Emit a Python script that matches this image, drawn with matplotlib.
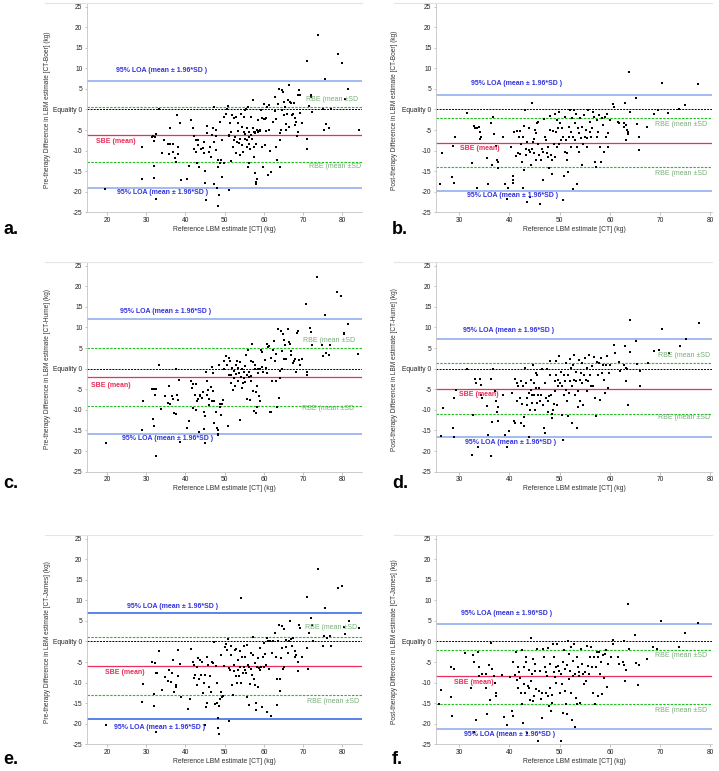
import matplotlib.pyplot as plt

plt.rcParams['font.family'] = ['Liberation Sans', 'DejaVu Sans']

# ---- data (x = reference LBM [CT], y = difference) ----
a_x = [19.6, 28.9, 29.0, 31.4, 31.8, 32.2, 32.5, 32.0, 32.0, 32.1,
       32.4, 33.2, 33.9, 34.6, 35.6, 35.7, 36.0, 36.1, 36.7, 36.9,
       37.3, 37.7, 37.9, 38.0, 38.0, 38.5, 38.8, 40.5, 41.0, 41.5,
       41.9, 42.1, 42.2, 42.6, 42.8, 42.9, 43.1, 43.3, 43.4, 43.9,
       44.4, 44.6, 44.7, 45.0, 45.1, 45.2, 45.5, 45.6, 46.0, 46.3,
       46.6, 46.7, 47.0, 47.2, 47.3, 47.4, 47.7, 47.8, 47.9, 48.1,
       48.2, 48.3, 48.4, 48.5, 48.7, 48.9, 49.1, 49.3, 49.4, 49.7,
       49.9, 50.4, 50.7, 50.9, 51.1, 51.2, 51.3, 51.0, 51.5, 51.7,
       51.8, 52.0, 52.3, 52.4, 52.6, 52.8, 52.9, 53.1, 53.3, 53.4,
       53.6, 53.8, 54.0, 54.1, 54.3, 54.5, 54.6, 54.8, 55.0, 55.1,
       55.2, 55.3, 55.5, 55.6, 55.7, 55.7, 55.9, 56.0, 56.1, 56.2,
       56.2, 56.3, 56.5, 56.7, 56.8, 56.9, 57.1, 57.2, 57.4, 57.4,
       57.5, 57.6, 57.7, 57.8, 57.9, 57.9, 58.0, 58.2, 58.2, 58.4,
       58.5, 58.7, 58.9, 59.0, 59.2, 59.4, 59.6, 59.7, 59.9, 60.0,
       60.2, 60.3, 60.5, 60.6, 60.8, 61.0, 61.2, 61.3, 61.6, 61.9,
       62.3, 62.7, 62.8, 63.0, 63.1, 63.4, 63.6, 63.8, 64.0, 64.1,
       64.2, 64.3, 64.6, 64.7, 64.8, 65.0, 65.2, 65.4, 65.5, 65.7,
       65.8, 66.1, 66.4, 66.5, 66.7, 66.9, 67.2, 67.4, 67.6, 67.8,
       68.0, 68.2, 68.5, 68.6, 68.8, 69.0, 69.1, 69.3, 69.6, 71.0,
       71.0, 71.0, 71.6, 71.9, 72.1, 72.3, 73.7, 75.0, 75.3, 75.6,
       75.9, 76.7, 77.1, 78.9, 79.9, 80.6, 81.5, 84.2]
a_y = [-19.4, -16.9, -9.1, -6.6, -6.5, -6.6, -6.0, -7.7, -13.7, -16.7,
       -21.7, 0.1, -10.5, -7.5, -8.3, -10.9, -4.5, -8.3, -10.3, -8.3,
       -11.7, -12.8, -1.3, -9.1, -10.9, -3.2, -17.2, -16.9, -13.8, -2.6,
       -4.5, -6.4, -9.6, -7.5, -10.3, -13.1, -8.7, -7.5, -13.9, -9.5,
       -9.3, -7.9, -10.7, -15.0, -17.8, -22.0, -4.0, -5.7, -10.3, -9.1,
       -11.5, -6.2, -4.6, -18.1, 0.6, -7.9, -9.9, -4.9, -6.4, -19.0,
       -23.4, -12.3, -13.9, -20.9, -12.9, -3.0, -12.3, -16.4, -7.5, -12.9,
       -1.8, -1.1, 0.0, 0.8, -6.2, -6.5, -3.4, -19.7, -12.5, -5.4,
       -1.4, -9.2, -7.5, -2.2, -6.6, -10.7, -1.8, -7.9, -5.2, -3.4,
       -8.1, -7.1, -11.1, -1.0, -8.7, -4.2, -10.3, -5.6, -1.9, -7.3,
       -0.2, -6.0, 0.2, -7.5, -9.1, -4.6, 0.6, -13.9, -6.6, -13.0,
       -8.4, -5.4, -9.5, -1.9, -6.2, -7.1, -4.4, 2.3, -9.1, -5.4,
       -11.5, -5.7, -15.4, -5.4, -8.3, -18.0, -17.6, -17.0, -5.0, -5.4,
       -2.6, -5.2, -5.2, -4.9, -0.2, -2.2, -9.1, -13.9, -2.4, 1.3,
       -8.7, -2.4, -5.2, -2.2, 0.6, -16.0, 1.1, -5.0, -10.0, -15.2,
       -3.0, 3.1, -0.3, -2.4, -9.1, -12.3, 1.3, 4.9, -13.9, -5.8,
       -7.5, -5.0, 4.7, -0.2, 4.3, -1.4, 1.9, 0.6, -3.6, -4.9,
       -1.0, 2.3, 5.9, -4.2, 1.9, 1.5, -1.4, -1.0, 1.5, -2.2,
       -3.8, -3.0, -6.5, -5.4, 3.5, 4.7, 3.5, -0.8, -3.2, 11.8,
       -7.1, -9.5, 0.8, 3.1, 3.5, -0.6, 18.1, 0.1, -4.9, 7.3,
       -3.6, -4.4, 0.2, 13.5, 11.2, 2.5, 4.9, -5.0]

b_x = [26.1, 26.6, 28.5, 28.7, 28.9, 29.2, 31.5, 32.6, 32.9, 33.1,
       33.5, 33.6, 34.0, 34.1, 34.3, 34.1, 35.5, 35.8, 36.4, 36.6,
       36.8, 36.9, 37.4, 37.6, 37.8, 37.8, 38.8, 39.2, 39.6, 39.7,
       40.4, 40.7, 40.8, 40.8, 41.0, 41.3, 41.6, 41.7, 41.9, 42.1,
       42.2, 42.4, 42.6, 42.7, 42.8, 42.9, 43.0, 43.2, 43.3, 43.4,
       43.6, 43.6, 43.8, 43.8, 44.0, 44.1, 44.2, 44.4, 44.5, 44.6,
       44.8, 44.9, 45.0, 45.2, 45.3, 45.5, 45.6, 45.7, 45.9, 46.1,
       46.2, 46.4, 46.6, 46.7, 46.9, 47.1, 47.3, 47.5, 47.6, 47.7,
       47.9, 48.0, 48.1, 48.3, 48.4, 48.5, 48.7, 48.9, 49.0, 49.1,
       49.3, 49.4, 49.5, 49.7, 49.8, 49.9, 50.1, 50.3, 50.4, 50.6,
       50.7, 50.9, 51.0, 51.1, 51.3, 51.4, 51.5, 51.7, 51.8, 51.9,
       52.1, 52.2, 52.3, 52.5, 52.6, 52.7, 52.9, 53.0, 53.1, 53.3,
       53.4, 53.5, 53.7, 53.8, 53.9, 54.1, 54.2, 54.4, 54.5, 54.7,
       54.9, 55.1, 55.2, 55.4, 55.5, 55.7, 56.0, 56.1, 56.2, 56.4,
       56.7, 56.9, 57.0, 57.2, 57.4, 57.5, 57.7, 57.9, 58.0, 58.2,
       58.4, 58.6, 58.8, 59.0, 59.2, 59.4, 59.6, 59.7, 60.1, 60.7,
       60.9, 61.7, 61.9, 62.7, 62.8, 63.0, 63.1, 63.2, 63.4, 63.5,
       63.6, 63.8, 64.0, 65.1, 65.3, 65.7, 65.8, 67.3, 68.7, 69.5,
       70.3, 71.5, 73.8, 75.0, 77.6]
b_y = [-18.2, -10.7, -16.4, -8.8, -17.9, -6.6, -0.8, -12.9, -4.1, -4.6,
       -4.6, -19.1, -4.2, -7.3, -6.6, -5.4, -11.8, -18.2, -3.2, -13.4,
       -1.8, -6.0, -8.9, -12.3, -12.7, -14.3, -6.6, -18.2, -21.8, -19.2,
       -9.1, -16.2, -17.2, -17.8, -5.4, -11.3, -5.2, -10.7, -6.8, -10.9,
       -5.2, -8.3, -12.7, -6.6, -19.0, -14.6, -4.1, -0.2, -11.1, -9.5,
       -7.9, -22.6, -4.6, -9.9, -21.2, -10.3, -13.5, 1.5, -9.5, -7.9,
       -10.7, -7.3, -5.0, -5.8, -12.3, -3.4, -8.3, -3.0, -11.1, -22.9,
       -12.3, -9.5, -10.3, -17.2, -2.4, -6.6, -7.5, -10.7, -11.5, -9.1,
       -14.3, -5.0, -1.6, -11.1, -12.2, -15.6, -5.2, -8.3, -1.0, -11.5,
       -5.4, -2.6, -9.1, -4.6, -8.3, -0.6, -3.4, -7.5, -4.6, -22.0,
       -6.6, -16.2, -10.3, -1.8, -7.5, -10.7, -12.2, -15.2, -4.2, -6.6,
       -0.2, -9.1, -5.4, -2.2, -19.4, -6.6, -0.2, -3.4, -7.5, -1.1,
       -18.0, -9.1, -4.6, -10.3, -5.8, -2.2, -7.0, -13.5, -4.2, -8.3,
       -1.4, -6.6, -5.0, -7.0, -9.1, -0.2, -5.4, -3.0, -6.6, -4.6,
       -0.6, -1.8, -12.7, -13.9, -2.6, -6.8, -5.4, -1.4, -9.1, -12.7,
       -2.2, -3.8, -10.3, -1.8, -6.6, -1.0, -5.8, -9.1, -2.6, 1.3,
       0.5, -3.0, -3.4, -4.2, -3.2, 1.6, -3.8, -7.5, -5.0, -5.4,
       -6.0, 9.0, -0.7, 2.9, -3.6, -6.8, -9.9, -4.2, -1.0, -0.2,
       6.5, -0.8, 0.2, 1.2, 6.2]

c_x = [19.7, 29.0, 29.2, 31.5, 31.8, 31.9, 32.1, 32.2, 32.4, 32.6,
       33.2, 33.7, 34.7, 35.6, 35.9, 36.1, 36.6, 36.8, 37.2, 37.5,
       37.7, 37.9, 38.1, 38.3, 38.6, 40.4, 40.9, 41.3, 41.7, 41.9,
       42.0, 42.4, 42.6, 42.7, 42.9, 43.2, 43.4, 43.6, 43.8, 44.2,
       44.5, 44.7, 44.8, 45.0, 45.1, 45.2, 45.4, 45.6, 45.7, 46.0,
       46.1, 46.4, 46.7, 46.8, 47.0, 47.1, 47.3, 47.4, 47.8, 48.0,
       48.2, 48.3, 48.4, 48.6, 48.7, 48.9, 49.1, 49.3, 49.5, 49.7,
       49.9, 50.3, 50.6, 50.8, 51.1, 51.2, 51.4, 51.6, 51.7, 51.9,
       52.1, 52.3, 52.4, 52.6, 52.8, 52.9, 53.1, 53.3, 53.4, 53.6,
       53.8, 54.0, 54.1, 54.3, 54.5, 54.6, 54.8, 55.0, 55.1, 55.3,
       55.5, 55.6, 55.8, 56.0, 56.1, 56.3, 56.5, 56.6, 56.7, 56.8,
       57.0, 57.2, 57.3, 57.5, 57.7, 57.8, 57.9, 58.0, 58.2, 58.3,
       58.5, 58.6, 58.8, 59.0, 59.1, 59.3, 59.5, 59.6, 59.8, 60.2,
       60.5, 60.7, 60.8, 61.0, 61.3, 61.5, 61.7, 61.9, 62.1, 62.4,
       62.6, 62.8, 63.0, 63.2, 63.4, 63.6, 63.8, 64.0, 64.1, 64.4,
       64.5, 64.7, 64.8, 65.1, 65.2, 65.4, 65.7, 66.1, 66.4, 66.7,
       66.9, 67.0, 67.4, 67.7, 68.0, 68.2, 68.5, 68.7, 69.0, 69.2,
       69.6, 70.8, 71.0, 71.0, 71.7, 72.0, 72.2, 73.5, 74.8, 75.1,
       75.5, 75.7, 76.6, 76.9, 78.7, 79.7, 80.3, 80.5, 81.4, 83.9]
c_y = [-18.1, -14.8, -7.9, -4.9, -12.2, -13.9, -4.9, -6.3, -21.2, -4.9,
       1.0, -9.7, -6.6, -8.4, -4.1, -8.6, -6.6, -7.3, -10.8, -11.0,
       -0.1, -6.5, -7.7, -2.8, -17.7, -14.3, -12.8, -3.1, -4.7, -3.7,
       -9.6, -6.5, -10.0, -3.7, -7.9, -7.3, -15.4, -6.3, -6.7, -7.1,
       -5.7, -14.6, -10.4, -18.1, -11.6, -0.8, -3.1, -6.3, -5.3, -7.3,
       -8.8, -4.5, -7.8, 0.5, -5.5, -1.1, -13.2, -7.9, -10.4, -14.4,
       -15.9, -14.8, -16.0, 1.0, -9.2, -8.6, -11.2, -8.6, -7.6, 1.8,
       -0.2, 3.0, 1.0, -13.8, 2.6, -1.5, 1.9, -3.5, -1.5, 0.2,
       -5.1, -0.6, -2.3, -4.3, 1.0, -1.3, 1.8, 0.2, -3.1, -1.1,
       -12.4, 1.6, -2.1, -4.7, -0.2, -3.5, -0.8, -2.3, 0.6, -3.2,
       3.4, -7.4, -1.6, 4.6, -0.8, -2.1, -7.5, 1.8, -2.9, -1.9,
       6.0, -5.5, 1.6, -10.2, 1.0, -0.2, -5.7, -10.8, -9.2, -4.3,
       0.0, -1.1, -6.7, -7.9, -0.2, 4.6, 4.1, 0.3, -0.8, 2.2,
       0.2, 6.0, -1.1, 5.2, 5.4, -10.4, -10.5, 2.6, -3.1, 4.6,
       6.8, 1.8, -3.1, 3.6, -9.2, 9.5, -7.1, -0.5, -2.3, 9.1,
       4.4, -0.2, 8.5, 7.0, 2.4, 5.8, 2.4, 9.5, 6.5, 6.0,
       4.2, 3.4, 1.4, 1.8, 2.4, -0.8, 8.7, 9.2, 2.2, 1.0,
       2.4, 15.6, -0.8, -1.5, 9.9, 8.9, 5.7, 22.2, 5.7, 3.0,
       13.1, 3.8, 3.4, 5.7, 18.6, 17.6, 8.7, 8.4, 10.9, 3.6]

d_x = [26.3, 26.7, 28.7, 28.9, 29.0, 29.3, 31.6, 32.8, 32.6, 33.1,
       33.3, 33.8, 34.1, 34.3, 34.3, 34.5, 35.6, 35.8, 36.3, 36.4,
       36.6, 36.8, 37.1, 37.3, 37.5, 37.7, 37.8, 38.8, 39.2, 39.6,
       39.9, 40.5, 41.0, 41.1, 41.1, 41.5, 41.6, 41.8, 42.1, 42.3,
       42.4, 42.6, 42.7, 42.9, 43.0, 43.2, 43.4, 43.5, 43.6, 43.8,
       43.9, 44.0, 44.2, 44.2, 44.4, 44.5, 44.6, 44.8, 44.9, 45.0,
       45.2, 45.3, 45.4, 45.5, 45.7, 45.9, 46.1, 46.3, 46.4, 46.6,
       46.8, 47.0, 47.1, 47.3, 47.4, 47.6, 47.7, 47.9, 48.0, 48.1,
       48.3, 48.4, 48.5, 48.7, 48.8, 49.0, 49.1, 49.2, 49.3, 49.5,
       49.6, 49.7, 49.9, 50.1, 50.2, 50.4, 50.5, 50.7, 50.8, 50.9,
       51.1, 51.2, 51.3, 51.5, 51.6, 51.7, 51.9, 52.0, 52.1, 52.3,
       52.4, 52.5, 52.7, 52.8, 52.9, 53.1, 53.2, 53.3, 53.5, 53.6,
       53.7, 53.9, 54.0, 54.1, 54.3, 54.4, 54.5, 54.7, 54.9, 55.1,
       55.2, 55.4, 55.5, 55.7, 55.9, 56.1, 56.2, 56.4, 56.7, 56.9,
       57.1, 57.3, 57.4, 57.6, 57.8, 58.0, 58.2, 58.4, 58.6, 58.8,
       59.0, 59.2, 59.4, 59.6, 59.8, 60.0, 60.8, 61.0, 61.9, 62.0,
       62.7, 63.0, 63.1, 63.2, 63.4, 63.5, 63.9, 64.0, 65.2, 65.4,
       65.9, 65.9, 67.5, 68.8, 69.7, 70.3, 71.7, 73.9, 75.2, 77.7]
d_y = [-16.3, -9.6, -14.4, -7.1, -16.7, -5.1, 0.0, -11.2, -20.9, -2.6,
       -3.6, -19.1, -2.4, -3.9, -6.3, -7.0, -9.0, -16.0, -2.5, -21.3,
       -13.0, -0.2, -5.5, -7.9, -10.4, -12.8, -9.2, -6.3, -16.0, -19.1,
       -15.2, -5.9, -12.8, -13.2, -2.4, -3.5, -7.9, -4.1, -7.1, -3.1,
       -13.2, -8.5, -4.3, -14.0, -11.8, 0.2, -3.5, -8.8, -7.1, -5.9,
       -16.7, -10.0, -5.1, -2.7, -8.3, -6.3, 1.0, -6.3, -3.5, -10.0,
       -4.7, -1.1, -8.3, -1.5, -6.3, -4.7, -7.9, -6.3, -0.2, -8.8,
       -14.3, -15.6, -3.5, -7.1, -0.2, -10.4, -7.9, -6.7, -1.5, 1.8,
       -6.3, -11.0, -12.0, -10.0, -8.6, -3.1, -5.5, 1.9, -1.5, -8.8,
       -2.7, -4.3, 3.0, -3.5, -0.9, -4.3, -11.2, -17.3, -1.5, -6.3,
       -3.1, 1.4, -5.1, -7.9, -11.6, -1.5, -5.9, -3.1, 2.4, 0.2,
       -4.3, -13.2, 1.0, -2.7, 3.4, -6.3, -0.8, -3.1, -14.4, -5.5,
       -9.2, 2.2, -2.7, -7.9, -1.1, 1.4, -3.5, -8.8, -1.5, 2.6,
       -2.7, -5.5, 0.2, -3.1, 3.4, -1.5, -4.3, 0.6, -4.3, 2.8,
       -7.1, -11.6, 1.6, -1.5, 1.4, -7.5, 2.6, -1.1, 1.0, -2.7,
       -5.9, 1.0, 3.0, -4.7, -1.1, 1.0, 5.7, 3.8, 1.6, -0.6,
       1.0, 5.4, -2.9, 0.2, -0.2, -8.8, 11.9, 4.1, 6.8, 1.1,
       -0.6, -4.1, 1.4, 4.4, 4.6, 9.7, 3.8, 5.4, 7.3, 11.1]

e_x = [19.7, 28.8, 29.2, 31.5, 31.9, 32.1, 32.2, 32.4, 32.5, 32.8,
       33.3, 33.9, 34.8, 35.6, 35.9, 36.2, 36.5, 36.9, 37.1, 37.6,
       37.7, 38.0, 38.1, 38.5, 38.9, 40.6, 41.1, 41.5, 41.9, 42.2,
       42.3, 42.5, 42.9, 43.0, 43.3, 43.5, 43.7, 43.9, 44.1, 44.5,
       44.7, 44.9, 45.1, 45.2, 45.4, 45.6, 45.7, 46.0, 46.2, 46.4,
       46.8, 47.1, 47.4, 47.5, 47.7, 48.0, 48.1, 48.3, 48.5, 48.4,
       48.6, 48.8, 49.0, 49.1, 49.3, 49.6, 49.8, 50.1, 50.3, 50.7,
       50.9, 51.1, 51.2, 51.3, 51.5, 51.7, 51.9, 52.1, 52.3, 52.4,
       52.6, 52.8, 52.9, 53.1, 53.3, 53.4, 53.6, 53.8, 54.0, 54.2,
       54.2, 54.4, 54.6, 54.8, 54.9, 55.1, 55.3, 55.4, 55.6, 55.8,
       55.9, 56.1, 56.3, 56.5, 56.6, 56.8, 57.0, 57.1, 57.3, 57.5,
       57.6, 57.8, 58.0, 58.1, 58.3, 58.5, 58.6, 58.8, 59.0, 59.1,
       59.3, 59.6, 59.7, 59.9, 60.1, 60.3, 60.5, 60.7, 60.8, 61.1,
       61.3, 61.5, 61.9, 62.1, 62.4, 62.7, 63.0, 63.3, 63.4, 63.7,
       63.9, 64.0, 64.2, 64.4, 64.6, 64.7, 64.9, 65.1, 65.2, 65.5,
       65.7, 66.1, 66.4, 66.6, 66.9, 67.2, 67.4, 67.8, 68.0, 68.3,
       68.6, 68.8, 69.0, 69.3, 69.6, 71.0, 71.1, 71.3, 71.6, 71.9,
       72.2, 72.5, 73.8, 75.0, 75.4, 75.6, 76.1, 76.9, 77.2, 78.9,
       79.9, 80.5, 80.7, 81.6, 84.2]
e_y = [-20.2, -14.7, -10.3, -4.9, -12.8, -15.6, -5.3, -7.7, -21.9, -7.7,
       -2.4, -11.8, -8.7, -9.5, -6.9, -9.9, -7.6, -4.5, -12.2, -10.6,
       -11.0, -2.2, -8.5, -5.4, -13.4, -16.5, -14.1, -1.8, -5.1, -5.8,
       -8.9, -8.1, -10.6, -6.1, -4.1, -9.2, -4.5, -8.1, -4.9, -12.6,
       -10.0, -8.1, -20.3, -16.0, -15.0, -3.8, -5.7, -11.0, -8.4, -12.4,
       -4.9, -5.3, -0.2, -15.2, -5.9, -10.2, -15.0, -21.1, -22.4, -18.5,
       -15.7, -14.1, -12.2, -3.4, -13.4, -13.3, -5.9, -1.4, -0.7, -2.0,
       0.6, -6.5, -19.3, -6.9, -1.2, -3.3, -10.6, -13.0, -7.3, -5.7,
       -2.0, -8.4, -1.9, -10.2, -6.9, -4.5, -8.5, -6.1, -2.4, 10.6,
       -10.2, -3.7, -7.7, -1.2, -6.1, -6.9, -3.7, -7.7, -0.8, -13.4,
       -5.7, -15.4, -6.1, -10.3, -2.8, -6.7, -8.1, -3.3, 1.2, -9.2,
       -5.3, -10.6, -16.7, -15.0, -6.1, -11.0, -4.1, -6.5, -1.6, -6.9,
       -6.1, -15.9, -3.7, -6.1, -0.4, -3.0, -5.7, 0.8, -17.1, 0.2,
       -6.7, 0.0, -18.1, -2.8, 0.0, 2.0, -3.7, -9.2, -15.4, 0.0,
       4.1, -12.0, -9.2, -4.1, -1.6, 3.7, -6.7, -6.1, 3.0, 0.4,
       -1.4, -2.8, 0.0, 4.9, 0.6, -1.2, 0.8, -2.4, -3.7, -3.4,
       -7.3, -5.1, 4.1, 3.3, -3.7, 10.8, -1.6, -6.7, 2.0, 5.7,
       4.1, 0.2, 17.5, -1.2, 1.4, 8.1, 0.8, 1.4, -1.2, 13.0,
       13.4, 3.5, 1.9, 4.9, 3.3]

f_x = [25.9, 26.3, 28.3, 28.3, 28.6, 28.9, 31.2, 32.3, 32.7, 32.9,
       33.0, 33.4, 33.7, 33.9, 34.0, 34.5, 35.3, 35.3, 35.5, 36.0,
       36.2, 36.3, 36.5, 37.0, 37.2, 37.3, 37.4, 38.5, 38.9, 39.5,
       40.1, 40.5, 40.7, 40.8, 41.1, 41.3, 41.5, 41.7, 41.8, 42.0,
       42.2, 42.3, 42.5, 42.6, 42.7, 42.9, 43.0, 43.1, 43.3, 43.4,
       43.5, 43.7, 43.8, 43.9, 44.1, 44.2, 44.3, 44.5, 44.6, 44.7,
       44.9, 45.0, 45.1, 45.3, 45.5, 45.7, 45.8, 46.0, 46.2, 46.4,
       46.5, 46.7, 46.9, 47.1, 47.2, 47.3, 47.5, 47.6, 47.7, 47.9,
       48.0, 48.1, 48.3, 48.4, 48.5, 48.7, 48.8, 48.9, 49.1, 49.2,
       49.3, 49.5, 49.7, 49.9, 50.1, 50.2, 50.3, 50.5, 50.6, 50.7,
       50.9, 51.0, 51.1, 51.3, 51.4, 51.5, 51.7, 51.8, 51.9, 52.1,
       52.2, 52.3, 52.5, 52.6, 52.7, 52.9, 53.0, 53.1, 53.3, 53.4,
       53.5, 53.7, 53.8, 53.9, 54.1, 54.3, 54.5, 54.7, 54.8, 55.0,
       55.2, 55.4, 55.6, 55.8, 56.0, 56.2, 56.4, 56.6, 56.8, 57.0,
       57.2, 57.4, 57.6, 57.7, 57.9, 58.1, 58.3, 58.5, 58.7, 58.9,
       59.1, 59.3, 59.5, 59.7, 60.3, 60.6, 60.7, 61.7, 61.8, 62.5,
       62.7, 62.8, 62.9, 63.1, 63.5, 63.7, 65.0, 65.2, 65.5, 65.7,
       67.3, 68.5, 69.3, 70.1, 73.7, 74.9, 77.5]
f_y = [-15.2, -11.8, -6.1, -13.5, -18.0, -6.7, -2.9, -11.2, -3.2, -21.9,
       -5.1, -19.0, -2.5, -6.3, -8.4, -7.8, -8.0, -11.2, -17.6, -5.7,
       -14.3, -0.4, -6.7, -8.5, -10.0, -12.5, -13.3, -8.2, -18.4, -20.2,
       -8.6, -17.0, -18.0, -4.9, -8.1, -2.6, -9.4, -11.4, -6.3, -7.5,
       -8.8, -12.5, -2.2, -15.2, -19.8, -6.3, -10.4, -12.5, -5.1, -3.9,
       -22.3, -10.8, -7.0, -11.2, -14.3, 0.9, -9.6, -8.0, -4.3, -14.5,
       -13.3, -7.1, -5.5, -11.6, -1.8, -24.3, -12.0, -7.1, -14.1, -18.6,
       -12.5, -1.8, -3.9, -6.3, -7.5, -12.5, -8.4, -13.3, -1.6, -15.7,
       -5.5, -11.2, -17.0, -14.9, -12.9, -0.6, -7.5, -3.9, -8.6, -6.3,
       -10.0, -0.7, -5.9, -7.1, -12.5, -24.3, -8.0, -10.4, -5.1, -17.4,
       -2.2, -6.7, -12.0, -15.3, -5.7, -17.6, 0.2, -9.2, -3.0, -7.1,
       -12.5, -1.4, -19.0, -8.4, -4.7, -0.6, -8.0, -20.9, -13.7, -15.3,
       -3.9, -6.3, -8.4, -7.5, -14.9, -1.8, -5.5, -8.0, -10.4, -7.5,
       -9.6, -1.0, -5.9, -8.0, -3.9, -1.4, -6.3, -12.5, -3.9, -15.3,
       -6.3, -2.6, -13.3, -3.9, -2.6, -8.0, -5.1, -12.7, -3.2, -8.8,
       -3.0, -2.2, -11.1, -5.5, -3.9, 0.4, -0.6, -3.9, -5.5, -5.1,
       -5.7, 0.2, -9.6, -7.0, 9.0, -1.8, 1.5, -5.3, -10.6, -5.7,
       -4.3, -1.4, -1.8, 5.0, -1.4, 2.1, 4.6]

# reference lines per panel: SBE (mean), RBE (mean +/- SD), 95% LOA
sbe = [-6.1, -8.2, -2.0, -4.9, -6.0, -8.5]
rbe_upper = [0.6, -2.2, 5.0, 1.3, 1.0, -2.0]
rbe_lower = [-12.7, -14.1, -9.0, -11.0, -13.1, -15.2]
loa_upper = [7.0, 3.5, 12.0, 7.2, 6.9, 4.3]
loa_lower = [-19.0, -19.9, -15.9, -16.7, -18.9, -21.4]

letters = ['a.', 'b.', 'c.', 'd.', 'e.', 'f.']
ylabels = ['Pre-therapy Difference in LBM estimate [CT-Boer] (kg)',
           'Post-therapy Difference in LBM estimate [CT-Boer] (kg)',
           'Pre-therapy Difference in LBM estimate [CT-Hume] (kg)',
           'Post-therapy Difference in LBM estimate [CT-Hume] (kg)',
           'Pre-therapy Difference in LBM estimate [CT-James] (kg)',
           'Post-therapy Difference in LBM estimate [CT-James] (kg)']
xlabel = 'Reference LBM estimate [CT] (kg)'
loa_txt = '95% LOA (mean \u00b1 1.96*SD )'
rbe_txt = 'RBE (mean \u00b1SD'
sbe_txt = 'SBE (mean)'

xs = [a_x, b_x, c_x, d_x, e_x, f_x]
ys = [a_y, b_y, c_y, d_y, e_y, f_y]

# label anchor positions (data coords): loa hi, loa lo, sbe, rbe hi, rbe lo
label_pos = [
    [(22.2, 9.5), (22.5, -20.2), (17.1, -7.9), (70.8, 2.3), (71.6, -13.8)],
    [(32.3, 6.3), (31.5, -20.9), (30.1, -9.5), (69.0, -3.7), (69.0, -15.5)],
    [(23.4, 13.9), (23.9, -17.0), (15.8, -4.1), (70.0, 6.8), (69.7, -9.6)],
    [(30.8, 9.2), (31.1, -17.8), (30.0, -6.2), (69.5, 3.1), (69.5, -11.8)],
    [(25.2, 8.6), (21.8, -21.0), (19.6, -7.6), (70.5, 3.3), (71.1, -14.6)],
    [(30.3, 6.8), (30.9, -22.7), (28.9, -9.9), (69.0, -3.3), (68.9, -16.8)],
]

W, H = 719, 771
fig = plt.figure(figsize=(W / 100, H / 100), dpi=100)

left_px = [87, 436]
right_px = [362, 712]
bottom_px = [212.3, 471.7, 744.3]
top_px = [3.3, 262.3, 535.3]
xlims = [(14.9, 85.0), (25.4, 80.3)]

for i in range(6):
    row, col = i // 2, i % 2
    l = left_px[col] / W
    w = (right_px[col] - left_px[col]) / W
    b = 1 - bottom_px[row] / H
    h = (bottom_px[row] - top_px[row]) / H
    ax = fig.add_axes([l, b, w, h])

    # faint frame line above each panel
    fig.add_artist(plt.Line2D([(left_px[col] - 42) / W, right_px[col] / W],
                              [1 - top_px[row] / H] * 2, color='#e4e4e4', lw=0.8))

    blue = '#4d78e6' if i == 4 else '#9cb5f2'
    ax.axhline(loa_upper[i], color=blue, lw=1.3)
    ax.axhline(loa_lower[i], color=blue, lw=1.3)
    ax.axhline(rbe_upper[i], color='#22bf22', lw=0.8, dashes=(2.2, 1.2))
    ax.axhline(rbe_lower[i], color='#22bf22', lw=0.8, dashes=(2.2, 1.2))
    ax.axhline(0, color='black', lw=0.7, dashes=(2, 1.2))
    ax.axhline(sbe[i], color='#ef2d5a', lw=0.9)

    ax.scatter(xs[i], ys[i], s=3.4, marker='s', color='black', lw=0, zorder=3)

    p = label_pos[i]
    ax.text(*p[0], loa_txt, color='#3333dd', fontsize=5, fontweight='bold',
            va='center', ha='left', clip_on=True)
    ax.text(*p[1], loa_txt, color='#3333dd', fontsize=5, fontweight='bold',
            va='center', ha='left', clip_on=True)
    ax.text(*p[2], sbe_txt, color='#e82d58', fontsize=5, fontweight='bold',
            va='center', ha='left', clip_on=True)
    ax.text(*p[3], rbe_txt, color='#78ad78', fontsize=5,
            va='center', ha='left', clip_on=True)
    ax.text(*p[4], rbe_txt, color='#78ad78', fontsize=5,
            va='center', ha='left', clip_on=True)

    ax.set_xlim(*xlims[col])
    ax.set_ylim(-25, 25.8)
    if col == 0:
        ax.set_xticks(range(20, 90, 10))
    else:
        ax.set_xticks(range(30, 90, 10))
    yt = list(range(-25, 30, 5))
    ax.set_yticks(yt)
    ax.set_yticklabels(['Equality 0' if v == 0 else str(v) for v in yt])

    for s in ['top', 'right']:
        ax.spines[s].set_visible(False)
    for s in ['left', 'bottom']:
        ax.spines[s].set_color('#c4c4c4')
        ax.spines[s].set_linewidth(0.6)
    ax.tick_params(length=1.8, width=0.5, color='#aaaaaa', labelsize=4.8,
                   labelcolor='#222222', pad=1.5)
    ax.set_xlabel(xlabel, fontsize=4.9, color='#333333', labelpad=1.5)
    ax.set_ylabel(ylabels[i], fontsize=4.7, color='#333333')
    ax.yaxis.set_label_coords(-0.13 if col == 0 else -0.138, 0.49)

    lx = 3 if col == 0 else 392
    ly = [229, 484, 759][row]
    fig.text(lx / W, 1 - ly / H, letters[i], fontsize=13, fontweight='bold',
             ha='left', va='center')

fig.savefig('out.png', dpi=100)
